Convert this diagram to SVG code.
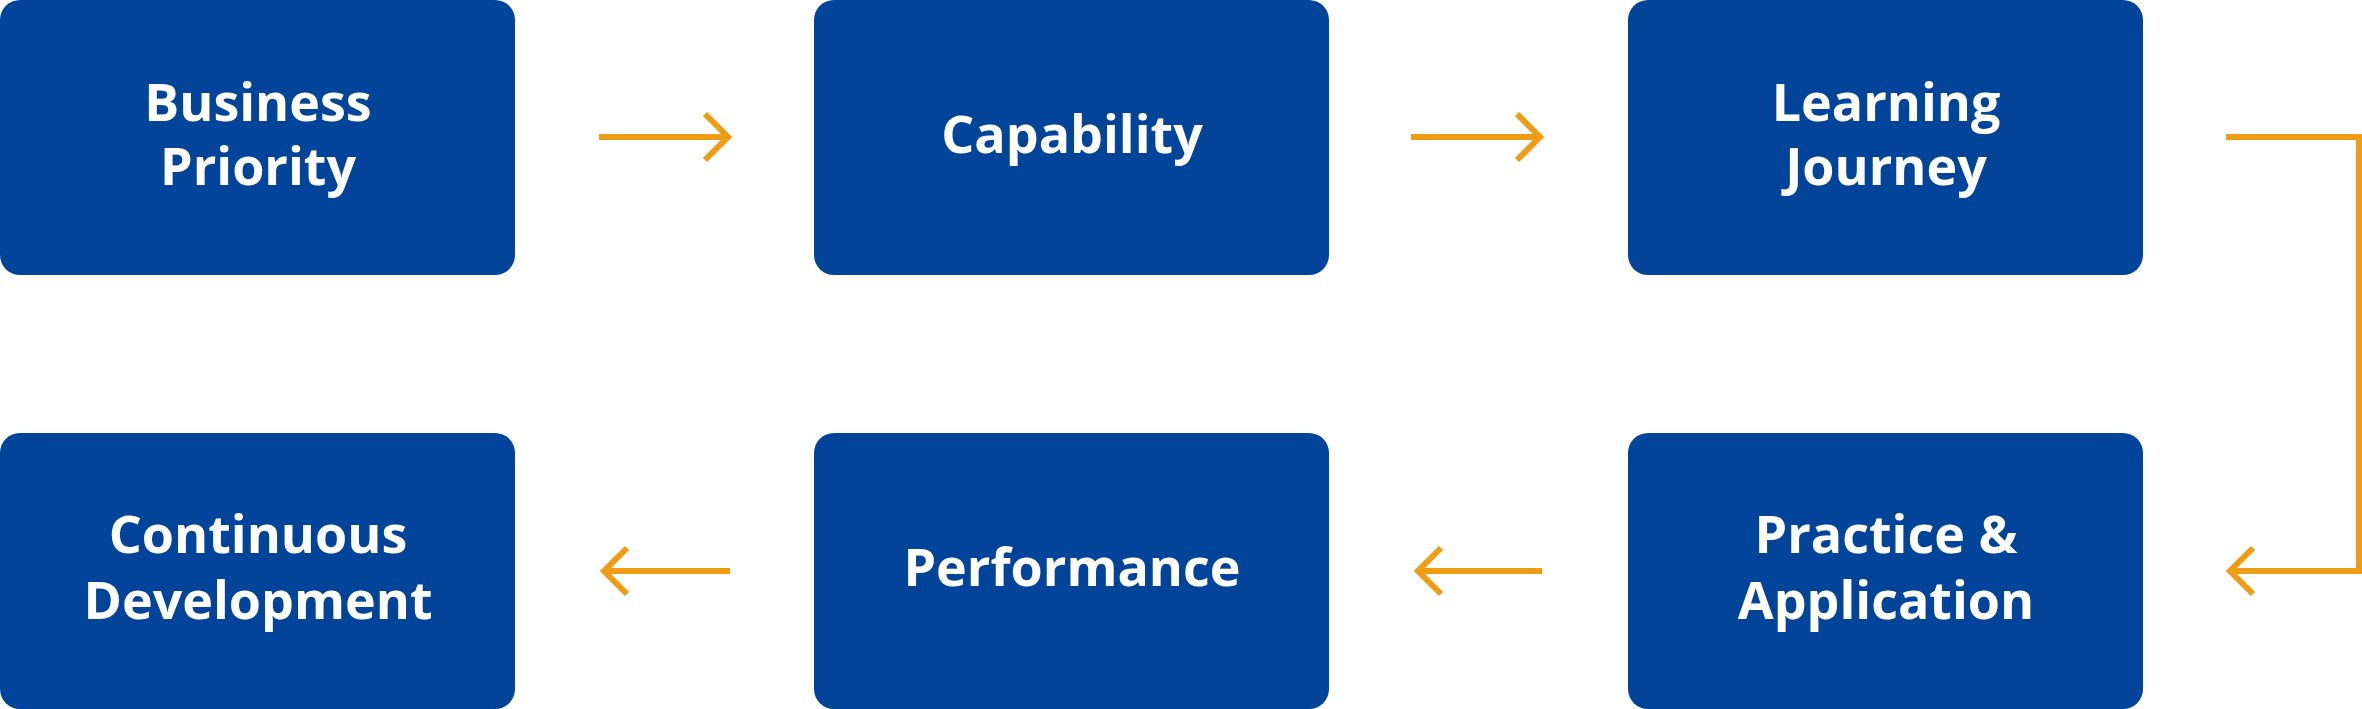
<svg xmlns="http://www.w3.org/2000/svg" width="2362" height="709" viewBox="0 0 2362 709">
<style>
.box{fill:#02449A}
.t{font-family:"Open Sans","Liberation Sans",sans-serif;font-weight:bold;font-size:52px;fill:#fff;text-anchor:middle}
.c{fill:none;stroke:#EE9C13;stroke-width:6}
</style>
<rect width="2362" height="709" fill="#fff"/>
<g id="n1"><rect class="box" x="0" y="0" width="515" height="275" rx="20"/><text class="t" x="258" y="121">Business</text><text class="t" x="258" y="185">Priority</text></g>
<g id="n2"><rect class="box" x="814" y="0" width="515" height="275" rx="20"/><text class="t" x="1072" y="153">Capability</text></g>
<g id="n3"><rect class="box" x="1628" y="0" width="515" height="275" rx="20"/><text class="t" x="1886" y="121">Learning</text><text class="t" x="1886" y="185">Journey</text></g>
<g id="n4"><rect class="box" x="1628" y="433" width="515" height="276" rx="20"/><text class="t" x="1886" y="553">Practice &amp;</text><text class="t" x="1886" y="619">Application</text></g>
<g id="n5"><rect class="box" x="814" y="433" width="515" height="276" rx="20"/><text class="t" x="1072" y="586">Performance</text></g>
<g id="n6"><rect class="box" x="0" y="433" width="515" height="276" rx="20"/><text class="t" x="258" y="553">Continuous</text><text class="t" x="258" y="619">Development</text></g>
<g id="connectors">
<path class="c" d="M599 137H726M705 114L728 137L705 160"/>
<path class="c" d="M1411 137H1538M1517 114L1540 137L1517 160"/>
<path class="c" d="M2226 137H2359V571H2232M2253 548L2230 571L2253 594"/>
<path class="c" d="M1542 571H1420M1441 548L1418 571L1441 594"/>
<path class="c" d="M730 571H606M627 548L604 571L627 594"/>
</g>
</svg>
